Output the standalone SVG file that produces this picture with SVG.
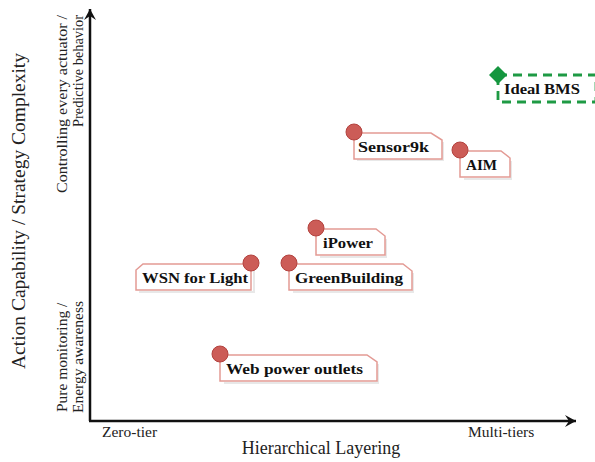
<svg xmlns="http://www.w3.org/2000/svg" width="595" height="462" viewBox="0 0 595 462">
  <style>
    .ax { stroke: #111; stroke-width: 2.5; fill: none; }
    .axt { font-family: "Liberation Serif", "Times New Roman", serif; fill: #222; }
    .sub { font-size: 15.5px; }
    .title { font-size: 18px; }
    .box { fill: #fff; stroke: #e39a94; stroke-width: 1.5; }
    .shadow { fill: none; stroke: #e8e8e8; stroke-width: 2; }
    .dot { fill: #cc5c57; stroke: #b3423e; stroke-width: 1; }
    .lbl { font-family: "Liberation Serif", "Times New Roman", serif; font-weight: bold; font-size: 14px; fill: #111; }
    .ideal { fill: #fff; stroke: #1e9a44; stroke-width: 2.8; stroke-dasharray: 9 6; }
  </style>
  <defs>
    <marker id="arrow" viewBox="0 0 12 12" refX="11" refY="6" markerWidth="12" markerHeight="12" markerUnits="userSpaceOnUse" orient="auto">
      <path d="M11,6 L0,0 L4,6 L0,12 Z" fill="#111"/>
    </marker>
  </defs>
  <rect width="595" height="462" fill="#fff"/>

  <g id="axes">
    <path class="ax" d="M90,421 V9" marker-end="url(#arrow)"/>
    <path class="ax" d="M89,421 H576" marker-end="url(#arrow)"/>
  </g>

  <g id="axis-labels" class="axt">
    <text class="title" text-anchor="middle" transform="translate(25,211) rotate(-90)" textLength="316" lengthAdjust="spacingAndGlyphs">Action Capability / Strategy Complexity</text>
    <text class="sub" text-anchor="end" transform="translate(67,15) rotate(-90)" textLength="178" lengthAdjust="spacingAndGlyphs">Controlling every actuator /</text>
    <text class="sub" text-anchor="end" transform="translate(83,15) rotate(-90)" textLength="112" lengthAdjust="spacingAndGlyphs">Predictive behavior</text>
    <text class="sub" text-anchor="start" transform="translate(67,412) rotate(-90)">Pure monitoring /</text>
    <text class="sub" text-anchor="start" transform="translate(83,413) rotate(-90)">Energy awareness</text>
    <text class="sub" x="102" y="437">Zero-tier</text>
    <text class="sub" x="468" y="437">Multi-tiers</text>
    <text class="title" x="321" y="454" text-anchor="middle">Hierarchical Layering</text>
  </g>

  <g id="connectors"></g>

  <g id="node-ideal-bms">
    <path class="ideal" d="M498,75 H596 V102 H498 Z"/>
    <path d="M498,66 L507,75 L498,84 L489,75 Z" fill="#15963f"/>
    <text class="lbl" x="504" y="94" textLength="76" lengthAdjust="spacingAndGlyphs">Ideal BMS</text>
  </g>

  <g id="node-sensor9k">
    <path class="shadow" d="M443,142 V160 H357"/>
    <path class="box" d="M354,133 H431 L442,140 V159 H354 Z"/>
    <circle class="dot" cx="354" cy="132" r="8"/>
    <text class="lbl" x="358" y="152" textLength="71" lengthAdjust="spacingAndGlyphs">Sensor9k</text>
  </g>

  <g id="node-aim">
    <path class="shadow" d="M511,161 V179 H464"/>
    <path class="box" d="M460,151 H501 L510,158 V177 H460 Z"/>
    <circle class="dot" cx="460" cy="150" r="8"/>
    <text class="lbl" x="466" y="170" textLength="31" lengthAdjust="spacingAndGlyphs">AIM</text>
  </g>

  <g id="node-ipower">
    <path class="shadow" d="M386,239 V257 H320"/>
    <path class="box" d="M316,229 H376 L385,236 V255 H316 Z"/>
    <circle class="dot" cx="316" cy="228" r="8"/>
    <text class="lbl" x="323" y="248" textLength="50" lengthAdjust="spacingAndGlyphs">iPower</text>
  </g>

  <g id="node-wsn-for-light">
    <path class="shadow" d="M254,266 V292 H139"/>
    <path class="box" d="M251,264 V290 H136 V270 L143,264 Z"/>
    <circle class="dot" cx="251" cy="263" r="8"/>
    <text class="lbl" x="142" y="283" textLength="106" lengthAdjust="spacingAndGlyphs">WSN for Light</text>
  </g>

  <g id="node-greenbuilding">
    <path class="shadow" d="M413,273 V292 H293"/>
    <path class="box" d="M289,264 H403 L412,271 V290 H289 Z"/>
    <circle class="dot" cx="289" cy="263" r="8"/>
    <text class="lbl" x="295" y="283" textLength="108" lengthAdjust="spacingAndGlyphs">GreenBuilding</text>
  </g>

  <g id="node-web-power-outlets">
    <path class="shadow" d="M378,364 V383 H224"/>
    <path class="box" d="M220,355 H367 L377,362 V381 H220 Z"/>
    <circle class="dot" cx="220" cy="354" r="8"/>
    <text class="lbl" x="226" y="374" textLength="137" lengthAdjust="spacingAndGlyphs">Web power outlets</text>
  </g>
</svg>
